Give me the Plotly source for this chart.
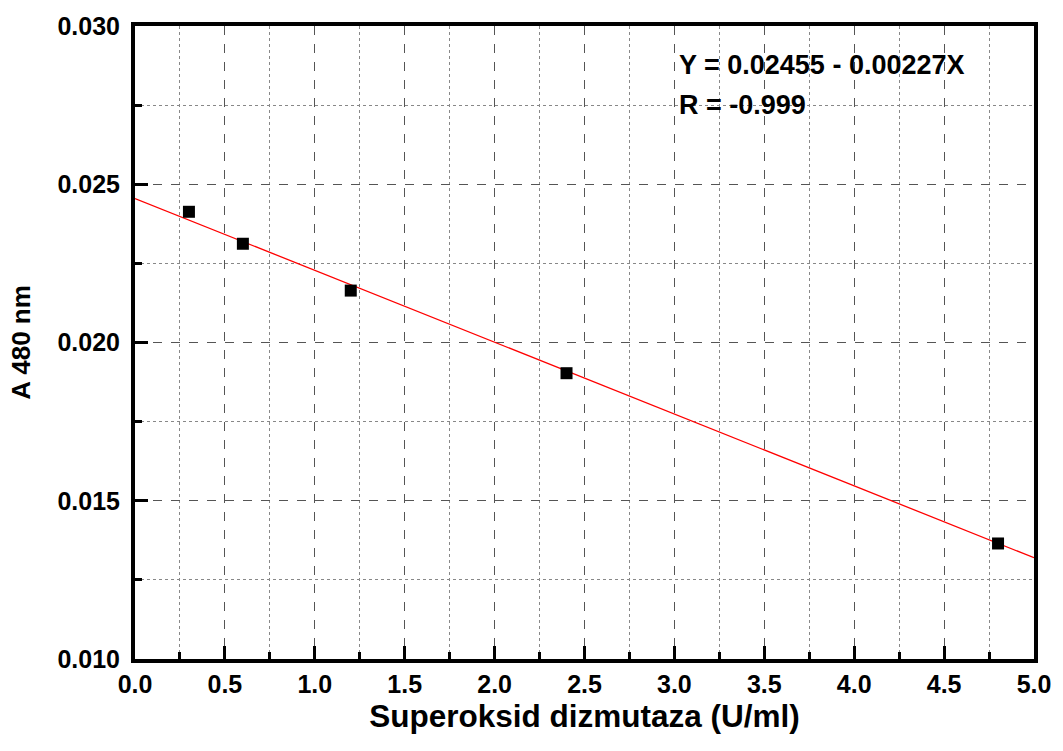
import plotly.graph_objects as go

# Measured points
sod_u_ml = [0.3, 0.6, 1.2, 2.4, 4.8]
absorbance = [0.02413, 0.02312, 0.02164, 0.01903, 0.01365]

# Linear fit reported on the chart
intercept = 0.02455
slope = -0.00227
fit_x = [0.0, 5.0]
fit_y = [intercept + slope * x for x in fit_x]

font_family = "Liberation Sans, Arial, sans-serif"

fig = go.Figure()

fig.add_trace(go.Scatter(
    x=fit_x, y=fit_y, mode="lines",
    line=dict(color="#ff0000", width=1.3), showlegend=False
))
fig.add_trace(go.Scatter(
    x=sod_u_ml, y=absorbance, mode="markers",
    marker=dict(symbol="square", size=12, color="black"),
    showlegend=False
))

axis_common = dict(
    showline=True, linecolor="black", linewidth=4, mirror=True,
    ticks="inside", ticklen=13, tickwidth=3, tickcolor="black",
    showgrid=True, gridcolor="#555555", gridwidth=1, griddash="dash",
    zeroline=False, automargin=True,
    tickfont=dict(family=font_family, size=25, color="black", weight="bold"),
)

fig.update_layout(
    width=1063, height=751,
    paper_bgcolor="white", plot_bgcolor="white",
    margin=dict(l=135, r=21, t=24, b=92),
    xaxis=dict(
        range=[0, 5], dtick=0.5, tickformat=".1f",
        title=dict(text="Superoksid dizmutaza (U/ml)", standoff=2,
                   font=dict(family=font_family, size=31.5, color="black", weight="bold")),
        minor=dict(dtick=0.25, ticks="inside", ticklen=7, tickwidth=3, tickcolor="black",
                   showgrid=True, gridcolor="#888888", gridwidth=1, griddash="dot"),
        ticklabelstandoff=0,
        **axis_common
    ),
    yaxis=dict(
        range=[0.010, 0.030], dtick=0.005, tickformat=".3f",
        title=dict(text="A 480 nm", standoff=20,
                   font=dict(family=font_family, size=26, color="black", weight="bold")),
        minor=dict(dtick=0.0025, ticks="inside", ticklen=7, tickwidth=3, tickcolor="black",
                   showgrid=True, gridcolor="#888888", gridwidth=1, griddash="dot"),
        ticklabelstandoff=6,
        **axis_common
    ),
    annotations=[
        dict(x=3.015, y=0.02878, xref="x", yref="y",
             text="Y = 0.02455 - 0.00227X", showarrow=False, xanchor="left", yanchor="middle",
             font=dict(family=font_family, size=27, color="black", weight="bold")),
        dict(x=3.015, y=0.02750, xref="x", yref="y",
             text="R = -0.999", showarrow=False, xanchor="left", yanchor="middle",
             font=dict(family=font_family, size=27, color="black", weight="bold")),
    ],
)

fig.write_html("out.html", config={"displayModeBar": False},
               post_script="document.body.style.margin='0';")
